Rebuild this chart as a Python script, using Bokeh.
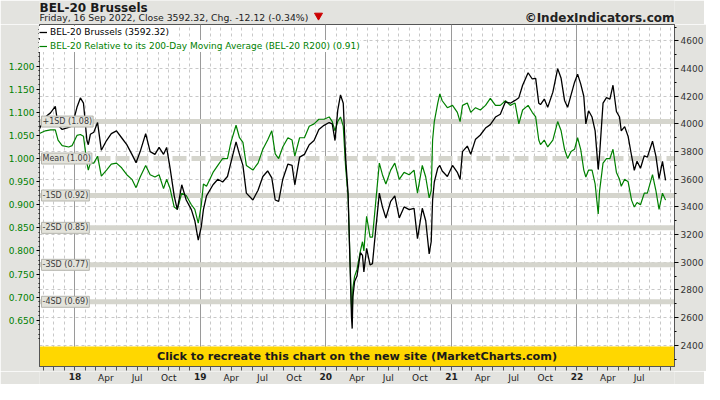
import numpy as np
import pandas as pd
from bokeh.plotting import figure
from bokeh.layouts import column
from bokeh.core.properties import value
from bokeh.models import (Range1d, LinearAxis, FixedTicker, NumeralTickFormatter, Grid, Span,
                          Label, Legend, LegendItem, BoxAnnotation)
from bokeh.embed import file_html
from bokeh.resources import INLINE

# ---------------- data ----------------
dates = [
    "2017-09-20", "2017-10-07", "2017-10-22", "2017-11-05", "2017-11-13", "2017-11-25", "2017-12-14", "2017-12-24",
    "2018-01-07", "2018-01-17", "2018-01-26", "2018-02-05", "2018-02-09", "2018-02-15", "2018-02-25", "2018-03-08",
    "2018-03-19", "2018-04-03", "2018-04-17", "2018-05-02", "2018-05-17", "2018-06-01", "2018-06-16", "2018-06-28",
    "2018-07-10", "2018-07-26", "2018-08-08", "2018-08-22", "2018-09-03", "2018-09-16", "2018-09-25", "2018-10-05",
    "2018-10-17", "2018-10-26", "2018-11-08", "2018-11-21", "2018-12-06", "2018-12-16", "2018-12-26", "2019-01-04",
    "2019-01-10", "2019-01-19", "2019-02-07", "2019-02-21", "2019-03-07", "2019-03-21", "2019-03-31", "2019-04-15",
    "2019-04-25", "2019-05-05", "2019-05-15", "2019-06-03", "2019-06-18", "2019-07-02", "2019-07-16", "2019-07-28",
    "2019-08-07", "2019-08-17", "2019-08-29", "2019-09-13", "2019-09-25", "2019-10-03", "2019-10-17", "2019-10-31",
    "2019-11-14", "2019-11-28", "2019-12-12", "2019-12-27", "2020-01-11", "2020-01-20", "2020-01-28", "2020-02-05",
    "2020-02-13", "2020-02-21", "2020-02-28", "2020-03-06", "2020-03-10", "2020-03-16", "2020-03-18", "2020-03-20",
    "2020-03-25", "2020-04-01", "2020-04-11", "2020-04-17", "2020-04-21", "2020-04-29", "2020-05-09", "2020-05-16",
    "2020-05-26", "2020-06-05", "2020-06-14", "2020-06-24", "2020-07-08", "2020-07-20", "2020-08-02", "2020-08-16",
    "2020-08-31", "2020-09-14", "2020-09-24", "2020-10-08", "2020-10-18", "2020-10-28", "2020-11-03", "2020-11-07",
    "2020-11-12", "2020-11-22", "2020-11-28", "2020-12-05", "2020-12-20", "2021-01-04", "2021-01-18", "2021-01-26",
    "2021-02-02", "2021-02-16", "2021-02-26", "2021-03-12", "2021-03-26", "2021-04-10", "2021-04-24", "2021-05-09",
    "2021-05-23", "2021-06-07", "2021-06-21", "2021-07-05", "2021-07-16", "2021-07-27", "2021-08-12", "2021-08-24",
    "2021-09-03", "2021-09-12", "2021-09-17", "2021-09-28", "2021-10-08", "2021-10-23", "2021-11-06", "2021-11-16",
    "2021-11-26", "2021-12-05", "2021-12-15", "2021-12-25", "2022-01-03", "2022-01-12", "2022-01-21", "2022-01-27",
    "2022-02-04", "2022-02-14", "2022-02-23", "2022-03-04", "2022-03-08", "2022-03-18", "2022-03-28", "2022-04-07",
    "2022-04-16", "2022-04-26", "2022-05-05", "2022-05-10", "2022-05-20", "2022-05-30", "2022-06-09", "2022-06-17",
    "2022-06-25", "2022-07-05", "2022-07-16", "2022-07-25", "2022-08-09", "2022-08-19", "2022-08-28", "2022-09-07",
    "2022-09-16",
]

bel20_close = [
    3965, 4050, 4080, 4127, 3990, 3960, 3975, 3985,
    4120, 4188, 4150, 3880, 3850, 3925, 3940, 4010,
    3810, 3880, 3930, 3950, 3900, 3850, 3780, 3720,
    3800, 3930, 3800, 3780, 3830, 3780, 3830, 3680,
    3480, 3380, 3560, 3450, 3380, 3300, 3160, 3260,
    3380, 3480, 3560, 3600, 3580, 3620, 3720, 3870,
    3780, 3700, 3500, 3450, 3520, 3620, 3660, 3610,
    3450, 3440, 3600, 3710, 3700, 3560, 3760, 3780,
    3850, 3880, 3960, 3990, 4010, 4000, 3880, 4100,
    4210, 4150, 3750, 3500, 3140, 2600, 2520, 2750,
    2860, 2900, 3070, 3050, 2930, 3100, 2980, 2990,
    3250, 3500, 3400, 3320, 3440, 3480, 3320, 3400,
    3380, 3390, 3170, 3390, 3300, 3060, 3150, 3450,
    3580, 3680, 3700, 3660, 3620, 3700, 3650, 3600,
    3800, 3840, 3780, 3890, 3920, 3970, 3995, 4050,
    4070, 4160, 4150, 4170, 4190, 4280, 4370, 4325,
    4330, 4150, 4140, 4180, 4120, 4230, 4400, 4330,
    4170, 4120, 4210, 4300, 4360, 4290, 4200, 4000,
    4095, 4050, 3950, 3670, 3780, 4150, 4190, 4180,
    4280, 4090, 4050, 3950, 3980, 3910, 3770, 3665,
    3730, 3680, 3770, 3760, 3875, 3765, 3605, 3730,
    3592.32,
]

bel20_r200 = [
    1.054, 1.060, 1.062, 1.062, 1.040, 1.028, 1.025, 1.028,
    1.050, 1.052, 1.048, 0.990, 0.975, 0.990, 0.990, 1.005,
    0.962, 0.975, 0.988, 0.990, 0.980, 0.965, 0.955, 0.937,
    0.960, 0.985, 0.965, 0.960, 0.965, 0.935, 0.955, 0.935,
    0.895, 0.890, 0.925, 0.920, 0.900, 0.890, 0.860, 0.900,
    0.945, 0.940, 0.970, 0.985, 1.000, 1.000, 1.035, 1.072,
    1.045, 1.035, 0.985, 0.975, 0.990, 1.020, 1.040, 1.060,
    1.010, 1.000, 1.025, 1.045, 1.040, 1.005, 1.045, 1.045,
    1.070, 1.075, 1.085, 1.085, 1.090, 1.080, 1.060, 1.080,
    1.090, 1.070, 0.980, 0.920, 0.820, 0.680, 0.655, 0.720,
    0.745, 0.760, 0.800, 0.820, 0.800, 0.875, 0.830, 0.830,
    0.910, 0.990, 0.965, 0.945, 0.975, 0.990, 0.955, 0.970,
    0.965, 0.975, 0.925, 0.985, 0.960, 0.915, 0.930, 1.040,
    1.080, 1.120, 1.140, 1.125, 1.110, 1.115, 1.100, 1.080,
    1.115, 1.120, 1.100, 1.110, 1.105, 1.115, 1.130, 1.115,
    1.115, 1.125, 1.115, 1.120, 1.075, 1.105, 1.115, 1.100,
    1.090, 1.040, 1.030, 1.040, 1.025, 1.040, 1.080, 1.060,
    1.020, 1.000, 1.015, 1.020, 1.045, 1.020, 0.975, 0.960,
    0.975, 0.975, 0.945, 0.880, 0.930, 0.990, 1.000, 1.000,
    1.020, 0.970, 0.955, 0.940, 0.955, 0.950, 0.910, 0.895,
    0.905, 0.900, 0.925, 0.925, 0.965, 0.930, 0.890, 0.925,
    0.91,
]

band_levels = [1.08, 1.00, 0.92, 0.85, 0.77, 0.69]
band_names = ["+1SD", "Mean", "-1SD", "-2SD", "-3SD", "-4SD"]

ratio_ticks = [0.65, 0.70, 0.75, 0.80, 0.85, 0.90, 0.95, 1.00, 1.05, 1.10, 1.15, 1.20]
price_ticks = [2400, 2600, 2800, 3000, 3200, 3400, 3600, 3800, 4000, 4200, 4400, 4600]
year_labels = ["18", "19", "20", "21", "22"]
quarter_labels = {4: "Apr", 7: "Jul", 10: "Oct"}

title_text = "BEL-20 Brussels"
subtitle_text = "Friday, 16 Sep 2022, Close 3592.32, Chg. -12.12 (-0.34%)"
copyright_text = "\u00a9IndexIndicators.com"
banner_text = "Click to recreate this chart on the new site (MarketCharts.com)"
legend_names = ["BEL-20 Brussels (3592.32)",
                "BEL-20 Relative to its 200-Day Moving Average (BEL-20 R200) (0.91)"]

# ---------------- layout constants ----------------
FONT = "DejaVu Sans"
FW, FH = 635, 342
BL, BR = 39, 30
HEAD_H, FOOT_H, BB = 24, 13, 5
GREEN = "#008000"
BAND = "#d5d5cd"
BG = "#e3e3df"

x_start = pd.Timestamp("2017-09-20").value // 10**6
x_end = pd.Timestamp("2022-10-12").value // 10**6
r_lo, r_hi = 0.550, 1.290
p_lo, p_hi = 2246, 4719
banner_top = r_lo + 20 * (r_hi - r_lo) / FH

x = pd.to_datetime(dates).values.astype("datetime64[ms]").astype("int64")

months = pd.date_range("2017-10-01", "2022-10-01", freq="MS")
month_ms = [int(t.value // 10**6) for t in months]
jan_ms = [int(t.value // 10**6) for t in months if t.month == 1]
lab_months = [t for t in months if t.month in quarter_labels
              and pd.Timestamp("2018-01-01") <= t <= pd.Timestamp("2022-07-31")]
q_ms = [int(t.value // 10**6) for t in lab_months]
q_text = [quarter_labels[t.month] for t in lab_months]


def strip(fig):
    fig.xgrid.visible = False
    fig.ygrid.visible = False


# ---------------- header ----------------
head = figure(title=None, frame_width=FW, frame_height=HEAD_H,
              x_range=Range1d(0, FW), y_range=Range1d(0, HEAD_H),
              output_backend="svg", toolbar_location=None, x_axis_location=None, y_axis_location=None,
              min_border_left=BL, min_border_right=BR, min_border_top=0, min_border_bottom=0,
              outline_line_color=None, border_fill_color=BG, background_fill_color=BG)
strip(head)
head.add_layout(Label(x=0, y=HEAD_H - 7, text=title_text, text_baseline="alphabetic",
                      text_font=FONT, text_font_size="12px", text_font_style="bold",
                      text_color="#1a1a1a"))
head.add_layout(Label(x=0, y=7, text=subtitle_text, text_baseline="alphabetic",
                      text_font=FONT, text_font_size="9.3px", text_color="#222222"))
head.scatter([279], [9], marker="inverted_triangle", size=8, fill_color="#cc0000",
             line_color="#cc0000")
head.add_layout(Label(x=FW, y=7, text=copyright_text, text_align="right",
                      text_baseline="alphabetic", text_font=FONT, text_font_size="12px",
                      text_font_style="bold", text_color="#222222"))

# ---------------- main chart ----------------
p = figure(title=None, frame_width=FW, frame_height=FH,
           x_range=Range1d(x_start, x_end), y_range=Range1d(r_lo, r_hi),
           output_backend="svg", toolbar_location=None,
           min_border_left=BL, min_border_right=BR, min_border_top=0, min_border_bottom=BB,
           border_fill_color=BG, background_fill_color="white",
           outline_line_color="#555555")
p.extra_y_ranges = {"price": Range1d(p_lo, p_hi)}
strip(p)

p.add_layout(Grid(dimension=0, ticker=FixedTicker(ticks=month_ms),
                  grid_line_color="#c8c8c8", grid_line_dash="3 3"))
p.add_layout(Grid(dimension=1, ticker=FixedTicker(ticks=price_ticks), y_range_name="price",
                  grid_line_color="#c8c8c8", grid_line_dash="3 3"))
p.add_layout(Grid(dimension=0, ticker=FixedTicker(ticks=jan_ms),
                  grid_line_color="#9a9a9a"))

for lvl, nm in zip(band_levels, band_names):
    p.add_layout(Span(location=lvl, dimension="width", line_color=BAND, line_width=5,
                      line_dash=("14 5" if nm == "Mean" else "solid"), level="underlay"))

p.add_layout(BoxAnnotation(bottom=r_lo, top=banner_top, fill_color="#ffd700", fill_alpha=1.0,
                           line_color=None, level="underlay"))

r_green = p.line(x, bel20_r200, line_color=GREEN, line_width=1.2)
r_black = p.line(x, bel20_close, y_range_name="price", line_color="black", line_width=1.3)

for lvl, nm in zip(band_levels, band_names):
    p.add_layout(Label(x=2, y=lvl, x_units="screen", text=f"{nm} ({lvl:.2f})",
                       text_font=FONT, text_font_size="8px", text_color="#3c3c3c",
                       text_baseline="middle", background_fill_color="#e3e3db",
                       border_line_color="#b5b5ad", padding=1))

ax = p.xaxis[0]
ax.ticker = FixedTicker(ticks=month_ms)
ax.major_label_overrides = {ms: "" for ms in month_ms}
ax.major_label_text_font_size = "0px"
ax.major_label_standoff = 0
ax.major_tick_out = 4
ax.major_tick_in = 0
ax.axis_line_color = "#555555"
ax.major_tick_line_color = "#555555"

ly = p.yaxis[0]
ly.ticker = FixedTicker(ticks=ratio_ticks,
                        minor_ticks=[round(0.61 + 0.01 * i, 2) for i in range(68)])
ly.formatter = NumeralTickFormatter(format="0.000")
ly.major_label_text_color = GREEN
ly.major_label_text_font = FONT
ly.major_label_text_font_size = "9px"
ly.major_tick_out = 3
ly.major_tick_in = 0
ly.minor_tick_out = 1
ly.minor_tick_in = 0
ly.major_label_standoff = 2
ly.axis_line_color = "#555555"

ry = LinearAxis(y_range_name="price",
                ticker=FixedTicker(ticks=price_ticks, minor_ticks=list(range(2300, 4701, 100))))
ry.major_label_text_font = FONT
ry.major_label_text_font_size = "9px"
ry.major_label_text_color = "#333333"
ry.major_tick_out = 4
ry.major_tick_in = 0
ry.minor_tick_out = 2
ry.minor_tick_in = 0
ry.major_label_standoff = 2
ry.axis_line_color = "#555555"
p.add_layout(ry, "right")

common = dict(background_fill_color="white", background_fill_alpha=1.0, border_line_color=None,
              label_text_font=FONT, label_text_font_size="9px", padding=1, spacing=0, margin=0,
              glyph_width=8, glyph_height=12, label_height=12, label_standoff=3)
leg1 = Legend(items=[LegendItem(label=legend_names[0], renderers=[r_black])],
              location=(0, FH - 14), label_text_color="black", **common)
leg2 = Legend(items=[LegendItem(label=legend_names[1], renderers=[r_green])],
              location=(0, FH - 28), label_text_color=GREEN, **common)
p.add_layout(leg1)
p.add_layout(leg2)

p.add_layout(Label(x=(x_start + x_end) / 2, y=(r_lo + banner_top) / 2, text=banner_text,
                   text_align="center", text_baseline="middle", text_font=FONT,
                   text_font_size="11.2px", text_font_style="bold", text_color="#1a1a1a"))

# ---------------- footer (date labels) ----------------
foot = figure(title=None, frame_width=FW, frame_height=FOOT_H, x_range=p.x_range,
              y_range=Range1d(0, FOOT_H),
              output_backend="svg", toolbar_location=None, x_axis_location=None, y_axis_location=None,
              min_border_left=BL, min_border_right=BR, min_border_top=0, min_border_bottom=0,
              outline_line_color=None, border_fill_color=BG, background_fill_color=BG)
strip(foot)
foot.text(x=q_ms, y=[FOOT_H - 1] * len(q_ms), text=q_text, text_align="center",
          text_baseline="top", text_font=value(FONT), text_font_size="9px", text_color="#222222")
foot.text(x=jan_ms, y=[FOOT_H - 1] * len(jan_ms), text=year_labels, text_align="center",
          text_baseline="top", text_font=value(FONT), text_font_size="9px",
          text_font_style="bold", text_color="#222222")

layout = column(head, p, foot, spacing=0)
open("out.html", "w").write(file_html(layout, INLINE))
